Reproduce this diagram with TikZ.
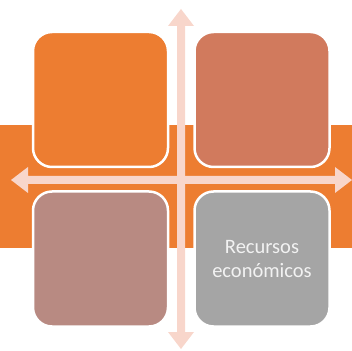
\documentclass[tikz,border=0pt]{standalone}
\usepackage{fontspec}
\setmainfont{Carlito}
\definecolor{orangeA}{HTML}{ED7D31}
\definecolor{boxTR}{HTML}{D17A5D}
\definecolor{boxBL}{HTML}{B88A82}
\definecolor{boxBR}{HTML}{A5A5A5}
\definecolor{arrowC}{HTML}{F8D6CB}
\begin{document}
\begin{tikzpicture}[x=1pt,y=1pt,
  quad/.style={draw=white,line width=2.5pt,rounded corners=19pt,minimum width=135pt,minimum height=135pt,inner sep=0pt,text=white!95!black,align=center,font=\fontsize{20.5}{23.5}\selectfont},
  arr/.style={fill=arrowC,draw=none}]
\useasboundingbox (0,0) rectangle (352,350);
\fill[orangeA] (0,102) rectangle (352,225);
\node[quad,fill=orangeA] (tl) at (100.5,250.5) {};
\node[quad,fill=boxTR] (tr) at (262,250.5) {};
\node[quad,fill=boxBL] (bl) at (100.5,91) {};
\node[quad,fill=boxBR] (br) at (262,91) {Recursos\\económicos};
% vertical double arrow
\fill[arr] (181,341) -- (194,324) -- (185,324) -- (185,18) -- (194,18) -- (181,1) -- (168,18) -- (177,18) -- (177,324) -- (168,324) -- cycle;
% horizontal double arrow
\fill[arr] (11,170) -- (28,183) -- (28,174) -- (335,174) -- (335,183) -- (352,170) -- (335,157) -- (335,166) -- (28,166) -- (28,157) -- cycle;
\end{tikzpicture}
\end{document}
